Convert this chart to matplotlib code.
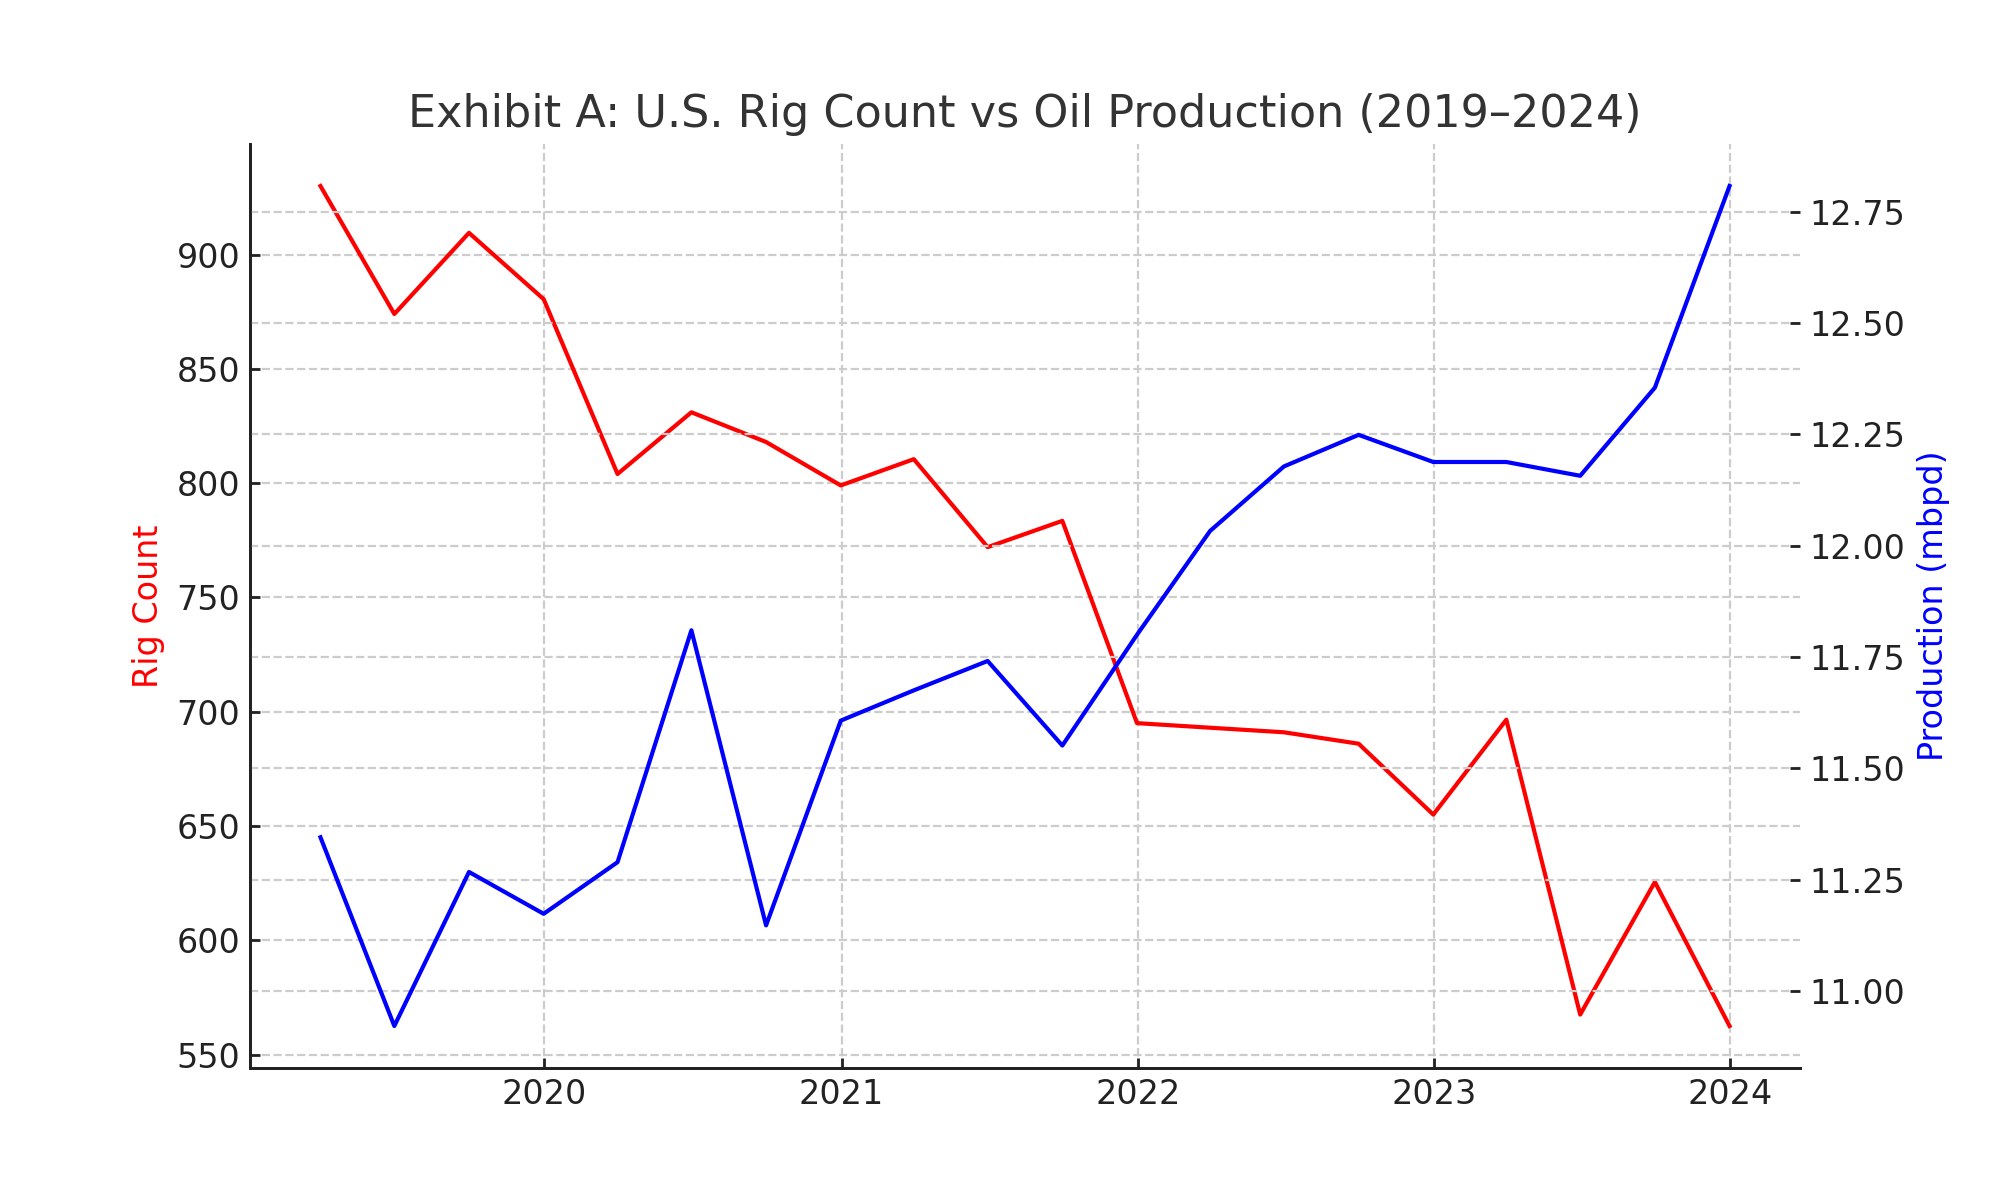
"""
Exhibit A: rig count vs oil production, two y axes.
"""
import matplotlib
matplotlib.use("Agg")
import matplotlib.pyplot as plt
import matplotlib.dates as mdates
import pandas as pd

quarters = ["2019-03-31", "2019-06-30", "2019-09-30", "2019-12-31",
            "2020-03-31", "2020-06-30", "2020-09-30", "2020-12-31",
            "2021-03-31", "2021-06-30", "2021-09-30", "2021-12-31",
            "2022-03-31", "2022-06-30", "2022-09-30", "2022-12-31",
            "2023-03-31", "2023-06-30", "2023-09-30", "2023-12-31"]
rig_count = [930, 874, 909.5, 880.5, 804, 831, 818, 799, 810.5, 772,
             783.5, 695, 693, 691, 686, 655, 696.5, 567.5, 625.5, 562.5]
production = [11.345, 10.921, 11.267, 11.173, 11.289, 11.81, 11.147, 11.607, 11.675, 11.741,
              11.551, 11.80, 12.033, 12.178, 12.249, 12.188, 12.188, 12.157, 12.355, 12.808]

plt.rcParams.update({
    "axes.spines.top": False,
    "axes.spines.right": False,
    "axes.linewidth": 1.0,
    "axes.edgecolor": "#222222",
    "xtick.direction": "in",
    "ytick.direction": "in",
    "xtick.major.width": 1.0,
    "ytick.major.width": 1.0,
    "xtick.color": "#222222",
    "ytick.color": "#222222",
    "xtick.labelsize": 12,
    "ytick.labelsize": 12,
    "axes.labelsize": 12,
    "grid.color": "#cccccc",
    "grid.linestyle": "--",
    "grid.linewidth": 0.8,
})

dates = pd.to_datetime(quarters)

fig, ax1 = plt.subplots(figsize=(10, 6), dpi=200)
ax1.plot(dates, rig_count, color="red", lw=1.5)
ax1.set_ylabel("Rig Count", color="red")
ax1.grid(True)

ax2 = ax1.twinx()
ax2.plot(dates, production, color="blue", lw=1.5)
ax2.set_ylabel("Production (mbpd)", color="blue")
ax2.grid(True)

ax1.xaxis.set_major_locator(mdates.YearLocator())
ax1.xaxis.set_major_formatter(mdates.DateFormatter("%Y"))

ax1.set_title("Exhibit A: U.S. Rig Count vs Oil Production (2019\u20132024)",
              fontsize=16, color="#333333")

fig.savefig("out.png", dpi=200)
